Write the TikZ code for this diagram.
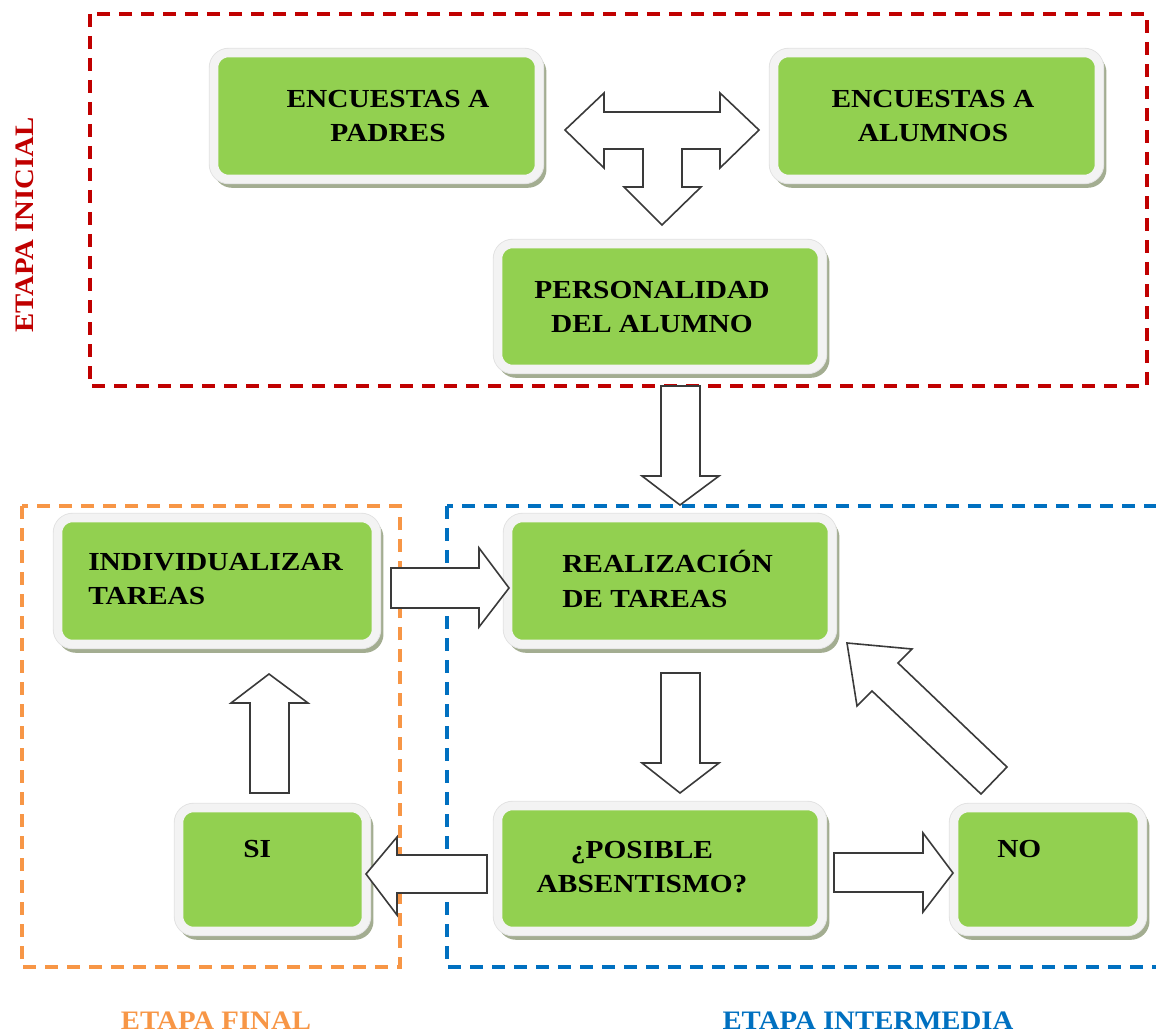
\documentclass[tikz,border=0pt]{standalone}
\usepackage{fontspec}
\setmainfont{Liberation Serif}
\newfontfamily\boxfont{Liberation Serif}[FakeStretch=1.13]
\newfontfamily\labfont{Liberation Serif}[FakeStretch=1.08]
\definecolor{boxgreen}{HTML}{92D050}
\definecolor{framecol}{HTML}{F3F3F3}
\definecolor{framegray}{HTML}{E2E2E2}
\definecolor{shadowcol}{HTML}{A3AD91}
\definecolor{arrowcol}{HTML}{3A3A3A}
\definecolor{etred}{HTML}{C00000}
\definecolor{etorange}{HTML}{F79646}
\definecolor{etblue}{HTML}{0070C0}
\begin{document}
\begin{tikzpicture}[x=0.75pt,y=-0.75pt,
  gbox/.style={rectangle, rounded corners=11pt, fill=boxgreen, draw=framecol, line width=6.4pt, inner sep=0pt,
    preaction={draw=shadowcol, fill=shadowcol, line width=6pt, transform canvas={shift={(2.6pt,-3.6pt)}}},
    preaction={draw=framegray, line width=7.8pt}},
  txt/.style={font=\boxfont\bfseries\fontsize{19.5}{26}\selectfont, align=center, inner sep=0pt, text=black},
  lab/.style={font=\labfont\bfseries\fontsize{20}{24}\selectfont, inner sep=0pt},
  stage/.style={dashed, dash pattern=on 9.5pt off 7pt, line width=2.6pt},
  barrow/.style={draw=arrowcol, fill=white, line width=1.2pt, line join=miter}]
\useasboundingbox (0,0) rectangle (1156,1034);

% stage frames
\draw[stage, draw=etred] (90,14) rectangle (1147,386);
\draw[stage, draw=etorange] (22,506) rectangle (400,967);
\draw[stage, draw=etblue] (447,506) rectangle (1166,967);

% boxes
\node[gbox, minimum width=325*0.75pt, minimum height=126*0.75pt] (padres) at (376.5,116) {};
\node[gbox, minimum width=325*0.75pt, minimum height=126*0.75pt] (alumnos) at (936.5,116) {};
\node[gbox, minimum width=324*0.75pt, minimum height=125*0.75pt] (person) at (660,306.5) {};
\node[gbox, minimum width=318*0.75pt, minimum height=126*0.75pt] (indiv) at (217,581) {};
\node[gbox, minimum width=324*0.75pt, minimum height=126*0.75pt] (realiz) at (670,581) {};
\node[gbox, minimum width=324*0.75pt, minimum height=125*0.75pt] (posible) at (660,868.5) {};
\node[gbox, minimum width=187*0.75pt, minimum height=123*0.75pt] (si) at (272.5,869.5) {};
\node[gbox, minimum width=188*0.75pt, minimum height=123*0.75pt] (no) at (1048,869.5) {};

% box texts
\node[txt] (tpad) at (388,116) {ENCUESTAS A\\PADRES};
\node[txt] (talu) at (933,116) {ENCUESTAS A\\ALUMNOS};
\node[txt] (tper) at (652,307) {PERSONALIDAD\\DEL ALUMNO};
\node[txt, align=left, anchor=west] (tind) at (88,579) {INDIVIDUALIZAR\\TAREAS};
\node[txt, align=left, anchor=west] (trea) at (562,579) {REALIZACIÓN\\DE TAREAS};
\node[txt] (tpos) at (642,867) {¿POSIBLE\\ABSENTISMO?};
\node[txt, anchor=west] (tsi) at (243,849) {SI};
\node[txt, anchor=west] (tno) at (997,849) {NO};

% block arrows
\draw[barrow] (565,130) -- (604,93) -- (604,112) -- (720,112) -- (720,93) -- (759,130) -- (720,168) -- (720,149) -- (682,149) -- (682,187) -- (701,187) -- (662,225) -- (624,187) -- (643,187) -- (643,149) -- (604,149) -- (604,168) -- cycle;
\draw[barrow] (661,386) -- (700,386) -- (700,476) -- (719,476) -- (680,505) -- (642,476) -- (661,476) -- cycle;
\draw[barrow] (391,568) -- (479,568) -- (479,548) -- (509,588) -- (479,627) -- (479,608) -- (391,608) -- cycle;
\draw[barrow] (661,673) -- (700,673) -- (700,763) -- (719,763) -- (680,793) -- (642,763) -- (661,763) -- cycle;
\draw[barrow] (487,855) -- (397,855) -- (397,837) -- (366,874) -- (397,915) -- (397,893) -- (487,893) -- cycle;
\draw[barrow] (834,853) -- (923,853) -- (923,833) -- (953,873) -- (923,912) -- (923,892) -- (834,892) -- cycle;
\draw[barrow] (847,643) -- (912,649) -- (898,663) -- (1007,767) -- (981,794) -- (872,691) -- (857,706) -- cycle;
\draw[barrow] (250,793) -- (250,703) -- (231,703) -- (269,674) -- (308,703) -- (289,703) -- (289,793) -- cycle;

% stage labels
\node[lab, text=etred, rotate=90] (linicial) at (25,225) {ETAPA INICIAL};
\node[lab, text=etorange] (lfinal) at (216,1021) {ETAPA FINAL};
\node[lab, text=etblue] (linter) at (868,1021) {ETAPA INTERMEDIA};
\end{tikzpicture}
\end{document}
